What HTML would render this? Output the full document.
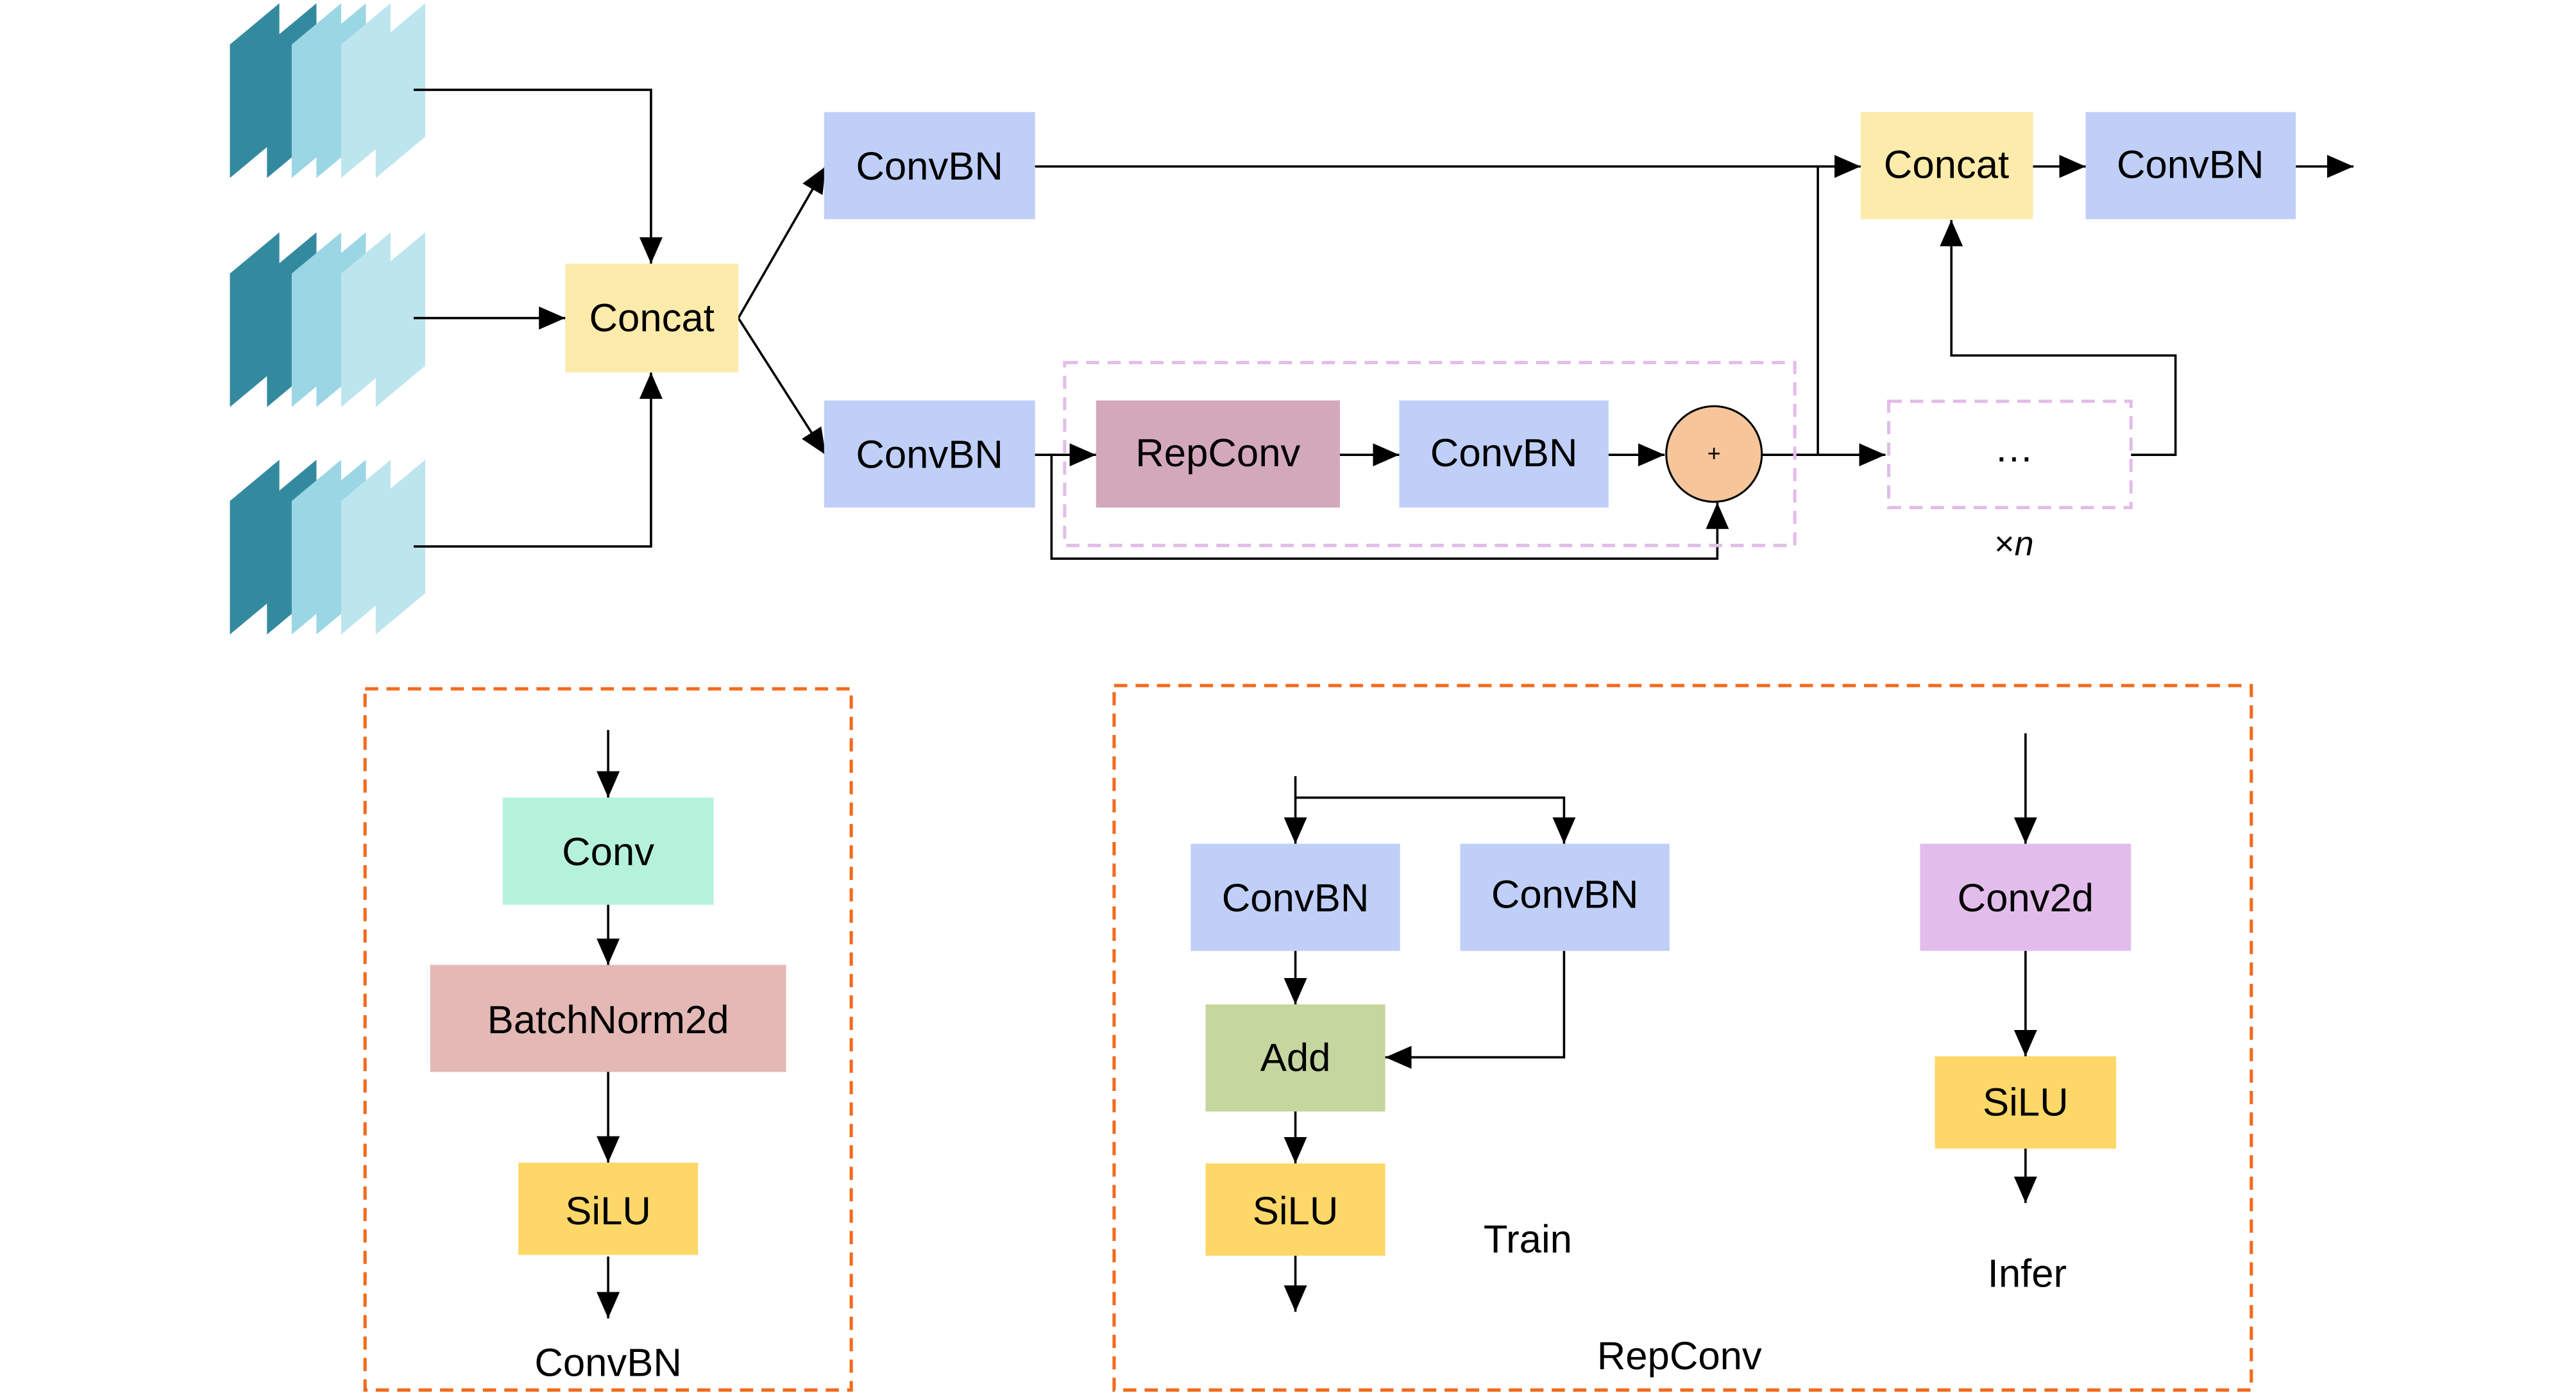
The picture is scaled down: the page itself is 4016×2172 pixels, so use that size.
<!DOCTYPE html>
<html><head><meta charset="utf-8"><style>
html,body{margin:0;padding:0;background:#fff;}
svg{display:block;}
text{font-family:"Liberation Sans",Arial,sans-serif;font-size:24px;fill:#000;}
</style></head><body>
<svg width="4016" height="2172" viewBox="0 0 1563 845.3" preserveAspectRatio="none" xmlns="http://www.w3.org/2000/svg">
<defs>
<marker id="a" viewBox="0 0 16 14" refX="16" refY="7" markerWidth="16" markerHeight="14" orient="auto" markerUnits="userSpaceOnUse"><path d="M0,0 L16,7 L0,14 Z" fill="#000"/></marker>
</defs>
<g id="stack">
<polygon points="139.5,27 169.5,2 169.5,83 139.5,108" fill="#338a9e"/>
<polygon points="162,27 192,2 192,83 162,108" fill="#338a9e"/>
<polygon points="177,27 207,2 207,83 177,108" fill="#9bd6e5"/>
<polygon points="192,27 222,2 222,83 192,108" fill="#9bd6e5"/>
<polygon points="207,27 237,2 237,83 207,108" fill="#bde5ee"/>
<polygon points="228,27 258,2 258,83 228,108" fill="#bde5ee"/>
</g>
<use href="#stack" y="139"/>
<use href="#stack" y="277"/>
<g stroke="#000" stroke-width="1.4" fill="none">
<polyline points="251,54.5 395,54.5 395,160" marker-end="url(#a)"/>
<line x1="251" y1="193" x2="343" y2="193" marker-end="url(#a)"/>
<polyline points="251,331.6 395,331.6 395,226" marker-end="url(#a)"/>
<line x1="448" y1="193" x2="501" y2="101" marker-end="url(#a)"/>
<line x1="448" y1="193" x2="501" y2="276" marker-end="url(#a)"/>
<line x1="628" y1="101" x2="1129" y2="101" marker-end="url(#a)"/>
<line x1="1103" y1="101" x2="1103" y2="276"/>
<line x1="1233.5" y1="101" x2="1265.5" y2="101" marker-end="url(#a)"/>
<line x1="1393" y1="101" x2="1428" y2="101" marker-end="url(#a)"/>
<line x1="628" y1="276" x2="665" y2="276" marker-end="url(#a)"/>
<polyline points="638,276 638,339 1042,339 1042,305" marker-end="url(#a)"/>
<line x1="813" y1="276" x2="849" y2="276" marker-end="url(#a)"/>
<line x1="976" y1="276" x2="1010" y2="276" marker-end="url(#a)"/>
<line x1="1068" y1="276" x2="1144" y2="276" marker-end="url(#a)"/>
<polyline points="1293,276 1320,276 1320,215.7 1184,215.7 1184,133.5" marker-end="url(#a)"/>
<line x1="369" y1="443" x2="369" y2="484" marker-end="url(#a)"/>
<line x1="369" y1="549" x2="369" y2="585.5" marker-end="url(#a)"/>
<line x1="369" y1="650.5" x2="369" y2="705.5" marker-end="url(#a)"/>
<line x1="369" y1="762.5" x2="369" y2="800" marker-end="url(#a)"/>
<line x1="786" y1="471" x2="786" y2="512" marker-end="url(#a)"/>
<polyline points="786,484 949,484 949,512" marker-end="url(#a)"/>
<line x1="786" y1="577" x2="786" y2="609.5" marker-end="url(#a)"/>
<polyline points="949,577 949,641.6 840.5,641.6" marker-end="url(#a)"/>
<line x1="786" y1="674" x2="786" y2="706" marker-end="url(#a)"/>
<line x1="786" y1="762" x2="786" y2="796" marker-end="url(#a)"/>
<line x1="1229" y1="445" x2="1229" y2="512" marker-end="url(#a)"/>
<line x1="1229" y1="577" x2="1229" y2="641" marker-end="url(#a)"/>
<line x1="1229" y1="697" x2="1229" y2="730" marker-end="url(#a)"/>
</g>
<rect x="646" y="220" width="443" height="111" fill="none" stroke="#e2bde8" stroke-width="2" stroke-dasharray="8,5"/>
<rect x="1146" y="243.5" width="147" height="64.5" fill="none" stroke="#e2bde8" stroke-width="2" stroke-dasharray="8,5"/>
<rect x="221.5" y="418" width="295" height="425.5" fill="none" stroke="#f26b1d" stroke-width="2" stroke-dasharray="8,5"/>
<rect x="676" y="416" width="690" height="427.5" fill="none" stroke="#f26b1d" stroke-width="2" stroke-dasharray="8,5"/>

<rect x="343" y="160" width="105" height="66" fill="#fcebaa"/>
<rect x="500" y="68" width="128" height="65" fill="#bfcff8"/>
<rect x="500" y="243" width="128" height="65" fill="#bfcff8"/>
<rect x="1129" y="68" width="104.5" height="65" fill="#fcebaa"/>
<rect x="1265.5" y="68" width="127.5" height="65" fill="#bfcff8"/>
<rect x="665" y="243" width="148" height="65" fill="#d4a8bb"/>
<rect x="849" y="243" width="127" height="65" fill="#bfcff8"/>
<circle cx="1040" cy="275.5" r="29" fill="#f7c59a" stroke="#000" stroke-width="1.2"/>

<rect x="305" y="484" width="128" height="65" fill="#b5f2dc"/>
<rect x="261" y="585.5" width="216" height="65" fill="#e3b8b5"/>
<rect x="314.5" y="705.5" width="109" height="56" fill="#fdd868"/>
<rect x="722.5" y="512" width="127" height="65" fill="#bfcff8"/>
<rect x="886" y="512" width="127" height="65" fill="#bfcff8"/>
<rect x="731.5" y="609.5" width="109" height="65" fill="#c5d69e"/>
<rect x="731.5" y="706" width="109" height="56" fill="#fdd868"/>
<rect x="1165" y="512" width="128" height="65" fill="#e2bdeb"/>
<rect x="1174" y="641" width="110" height="56" fill="#fdd868"/>

<g text-anchor="middle" dominant-baseline="central">
<text x="395.5" y="193">Concat</text>
<text x="564" y="101">ConvBN</text>
<text x="564" y="276">ConvBN</text>
<text x="1181" y="100">Concat</text>
<text x="1329" y="100">ConvBN</text>
<text x="739" y="275">RepConv</text>
<text x="912.5" y="275">ConvBN</text>
<text x="1040" y="275" style="font-size:14px">+</text>
<text x="1222" y="272">…</text>
<text x="1222" y="330" style="font-size:21px">×<tspan font-style="italic">n</tspan></text>
<text x="369" y="517">Conv</text>
<text x="369" y="619">BatchNorm2d</text>
<text x="369" y="735">SiLU</text>
<text x="369" y="827">ConvBN</text>
<text x="786" y="545">ConvBN</text>
<text x="949.5" y="543">ConvBN</text>
<text x="786" y="642">Add</text>
<text x="786" y="735">SiLU</text>
<text x="927" y="752">Train</text>
<text x="1229" y="545">Conv2d</text>
<text x="1229" y="669">SiLU</text>
<text x="1230" y="773">Infer</text>
<text x="1019" y="823">RepConv</text>
</g>
</svg>
</body></html>
